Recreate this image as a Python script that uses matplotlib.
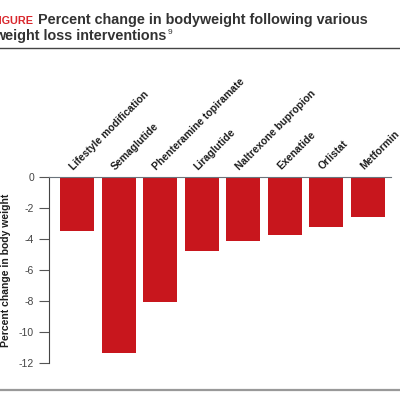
import numpy as np
import matplotlib
matplotlib.use('Agg')
import matplotlib.pyplot as plt
from matplotlib.lines import Line2D

plt.rcParams['font.family'] = ['Liberation Sans', 'DejaVu Sans']

interventions = ['Lifestyle modification', 'Semaglutide', 'Phenteramine topiramate',
                 'Liraglutide', 'Naltrexone bupropion', 'Exenatide', 'Orlistat', 'Metformin']
pct_change = [-3.5, -11.4, -8.1, -4.75, -4.1, -3.75, -3.2, -2.6]
yticks = [0, -2, -4, -6, -8, -10, -12]

W = H = 400
fig = plt.figure(figsize=(4, 4), dpi=100)

def px(x, y):
    # pixel coords (from top-left) -> figure fraction
    return x / W, 1 - y / H

ax = fig.add_axes([49 / W, 1 - 362.7 / H, (391 - 49) / W, (362.7 - 177.3) / H])
x = np.arange(len(interventions))
ax.bar(x, pct_change, width=0.82, color='#C8161D', zorder=2)
ax.set_xlim(-0.675, 7.56)
ax.set_ylim(-12, 0)
ax.set_yticks(yticks)
ax.set_yticklabels([str(v) for v in yticks])
ax.set_xticks([])
for s in ['bottom', 'right']:
    ax.spines[s].set_visible(False)
ax.spines['top'].set_color('#6b737b')
ax.spines['left'].set_color('#444444')
ax.spines['top'].set_zorder(3)
ax.tick_params(axis='y', direction='out', length=7.2, width=0.8, color='#555555',
               labelsize=7.5, labelcolor='#444444', pad=3.6)

for i, name in enumerate(interventions):
    ax.annotate(name, xy=(i, 0), xytext=(-2.5, 5), textcoords='offset points',
                rotation=45, rotation_mode='anchor', ha='left', va='baseline',
                fontsize=7.5, fontweight='bold', color='#1e1e1e', annotation_clip=False)

fig.text(*px(6, 270), 'Percent change in body weight', rotation=90, ha='center', va='center',
         fontsize=7.5, fontweight='bold', color='#1e1e1e')

# title block
fig.text(*px(33, 24), 'FIGURE', ha='right', va='baseline', fontsize=7.8,
         fontweight='bold', color='#D9262C')
fig.text(*px(38, 24), 'Percent change in bodyweight following various', ha='left',
         va='baseline', fontsize=10.4, fontweight='bold', color='#333333')
t2 = fig.text(*px(-6, 40), 'weight loss interventions', ha='left', va='baseline',
              fontsize=10.4, fontweight='bold', color='#333333')
r = fig.canvas.get_renderer()
bb = t2.get_window_extent(renderer=r)
fig.text(bb.x1 / W + 1 / W, px(0, 34)[1], '9', ha='left', va='baseline',
         fontsize=6, color='#333333')

fig.add_artist(Line2D([0, 1], [px(0, 48)[1]] * 2, color='#444444', lw=1))
fig.add_artist(Line2D([0, 1], [px(0, 390)[1]] * 2, color='#999999', lw=1.6))

fig.savefig('out.png', dpi=100)
